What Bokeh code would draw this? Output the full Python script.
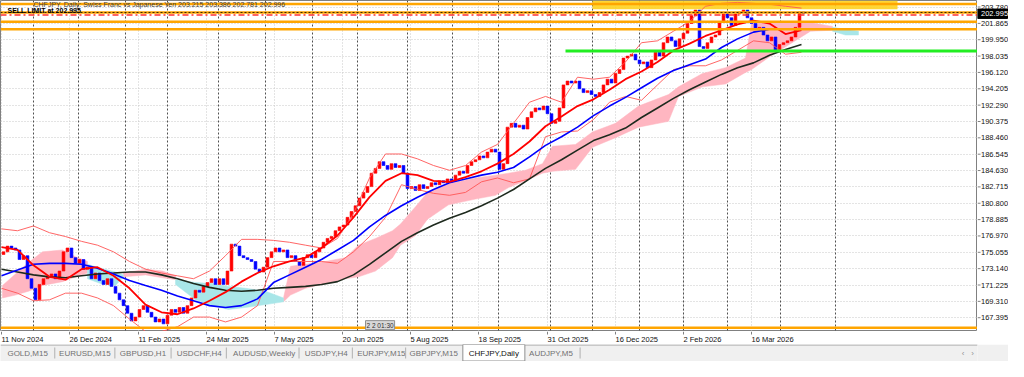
from bokeh.plotting import figure
from bokeh.models import (Range1d, FixedTicker, Span, Label, Grid,
                          BoxAnnotation, ColumnDataSource)
from bokeh.layouts import column, row
from bokeh.embed import file_html
from bokeh.resources import INLINE
from bokeh.core.properties import value

# ---------------- data (CHFJPY daily, one entry per 2 trading days) ----------------
first_open = 174.80
closes = [
    175.11, 175.78, 175.56, 175.33, 174.21, 174.66, 171.96, 170.84, 169.49, 171.29,
    171.96, 172.18, 172.52, 171.96, 172.86, 175.11, 175.56, 174.43, 173.76, 174.21,
    173.08, 173.31, 171.96, 172.63, 171.74, 171.29, 171.96, 171.06, 170.27, 169.49,
    168.81, 167.92, 167.02, 167.47, 168.36, 168.81, 168.03, 167.47, 166.90, 167.24,
    166.68, 167.69, 168.36, 168.03, 168.59, 167.92, 168.81, 169.71, 170.61, 170.39,
    171.06, 171.51, 171.96, 171.29, 171.96, 171.29, 172.86, 176.01, 175.78, 174.66,
    174.43, 174.21, 173.98, 173.08, 172.75, 173.31, 174.43, 175.11, 175.56, 175.11,
    175.33, 174.43, 174.66, 173.98, 173.53, 174.43, 174.77, 174.43, 175.11, 175.56,
    176.23, 176.68, 176.90, 177.58, 178.03, 178.25, 179.15, 179.83, 180.50, 181.40,
    182.07, 182.75, 184.32, 184.88, 185.67, 185.22, 184.77, 185.44, 184.99, 185.22,
    184.32, 182.52, 182.75, 182.30, 182.97, 182.52, 182.75, 183.20, 182.97, 183.42,
    183.20, 183.65, 183.42, 184.09, 184.54, 184.32, 185.22, 185.67, 185.89, 186.34,
    186.12, 186.79, 187.13, 186.79, 184.77, 185.44, 189.71, 190.16, 189.71, 189.94,
    189.49, 190.84, 191.51, 191.96, 191.74, 192.18, 191.29, 190.16, 190.39, 191.96,
    194.66, 195.11, 194.88, 195.11, 194.21, 193.76, 193.98, 193.53, 193.31, 193.76,
    194.66, 195.33, 194.88, 196.00, 196.45, 197.80, 198.03, 198.25, 197.58, 197.13,
    197.35, 196.68, 197.58, 198.48, 198.03, 199.60, 200.27, 199.82, 199.15, 200.05,
    200.72, 201.85, 202.75, 203.42, 199.15, 198.93, 199.60, 200.27, 200.50, 202.07,
    202.97, 202.52, 201.62, 202.97, 203.20, 203.42, 202.52, 201.85, 201.17, 201.40,
    200.50, 199.82, 200.27, 198.70, 199.38, 199.60, 199.82, 200.27, 201.40, 203.20,
    203.00,
]

# indicator lines, one value every 8 bars
red_ma = [175.67, 175.33, 173.53, 172.18, 171.85, 173.08, 173.31, 172.30, 170.84, 168.93,
          168.03, 167.80, 168.48, 169.38, 170.39, 171.62, 172.63, 173.42, 173.98, 174.43,
          175.56, 177.02, 179.15, 181.51, 183.42, 184.32, 184.09, 183.42, 183.31, 183.87,
          184.54, 185.44, 186.57, 188.03, 189.82, 190.95, 192.18, 192.97, 194.09, 195.33,
          196.23, 197.35, 198.70, 199.49, 200.39, 201.06, 201.74, 202.18, 201.85, 200.61,
          201.06]
blue_ma = [172.30, 172.97, 173.65, 173.76, 173.76, 173.65, 173.20, 172.52, 171.74, 171.17,
           170.61, 169.94, 169.38, 168.81, 168.59, 168.81, 169.60, 171.51, 172.41, 173.31,
           174.21, 175.33, 176.45, 178.03, 179.37, 180.50, 181.51, 182.41, 183.20, 183.65,
           184.09, 184.43, 184.99, 186.23, 187.58, 188.59, 189.71, 191.06, 192.18, 193.20,
           194.32, 195.44, 196.34, 197.02, 197.69, 199.04, 200.05, 200.84, 201.17, 201.17,
           201.17]
black_ma = [173.08, 172.75, 172.41, 172.18, 172.07, 172.30, 172.52, 172.63, 172.75, 172.75,
            172.41, 171.96, 171.40, 170.95, 170.61, 170.50, 170.61, 170.84, 170.95, 171.06,
            171.29, 171.62, 172.41, 173.65, 174.99, 176.34, 177.35, 178.25, 179.04, 179.71,
            180.50, 181.40, 182.41, 183.65, 184.88, 185.89, 187.02, 188.14, 188.81, 189.60,
            190.84, 191.96, 193.08, 194.09, 194.99, 195.89, 196.68, 197.24, 198.14, 198.81,
            199.38]
bb_upper = [177.80, 177.58, 178.14, 177.35, 176.90, 176.34, 175.89, 175.11, 173.98, 173.08,
            172.63, 172.30, 171.96, 172.86, 174.66, 176.57, 176.57, 176.45, 176.23, 175.89,
            175.56, 176.68, 179.60, 183.76, 186.57, 186.57, 186.00, 185.22, 184.66, 185.22,
            186.79, 187.69, 190.16, 192.63, 193.31, 192.63, 195.56, 195.33, 195.56, 197.35,
            199.60, 199.82, 200.95, 202.07, 203.87, 204.21, 204.32, 204.21, 204.10, 203.87,
            203.65]
bb_lower = [170.84, 170.27, 169.38, 169.49, 170.27, 170.27, 169.71, 168.81, 167.24, 165.78,
            165.78, 166.34, 167.47, 167.47, 166.90, 167.47, 168.81, 173.98, 173.98, 173.98,
            173.98, 173.76, 175.11, 176.90, 179.15, 182.97, 182.41, 181.96, 181.73, 182.07,
            183.31, 183.76, 183.20, 183.65, 188.59, 189.15, 189.26, 190.61, 192.63, 193.31,
            192.86, 194.66, 196.45, 196.90, 196.90, 197.58, 198.70, 199.82, 199.60, 198.25,
            198.48]

# Ichimoku cloud pieces (bar index, upper span, lower span)
pink_clouds = [
    ([0.5, 7, 13.5, 20.5, 30.5, 37, 43],
     [171.17, 172.52, 173.87, 175.11, 175.33, 174.54, 173.98],
     [169.71, 170.05, 170.50, 171.17, 171.62, 172.18, 172.63]),
    ([61, 72, 80.5, 87],
     [172.63, 173.08, 172.86, 172.30],
     [172.18, 172.41, 172.07, 171.85]),
    ([141, 144.5, 152, 162, 172, 178.5, 187, 195.5, 199.5, 207, 213, 223.5, 237, 247, 253.5,
      262, 270.5, 275.5, 287, 295.5, 307, 318.5, 333.5, 338.5, 350.5, 362, 372, 375,
      384.5, 394.5, 404.5, 415.5],
     [169.71, 173.42, 173.65, 173.98, 174.43, 175.89, 176.68, 177.58, 178.36, 180.39, 182.07,
      183.08, 183.76, 184.09, 184.32, 184.66, 185.44, 187.47, 187.69, 189.15, 190.16, 192.18,
      193.53, 194.43, 196.00, 196.68, 197.80, 201.85, 202.07, 202.07, 201.96, 201.51],
     [169.26, 170.05, 170.84, 171.40, 171.96, 172.18, 172.86, 174.43, 175.89, 177.02, 178.93,
      180.61, 181.29, 181.73, 182.63, 183.42, 184.32, 184.54, 184.77, 187.35, 188.48, 189.71,
      190.39, 193.31, 194.43, 194.77, 196.12, 196.45, 198.03, 199.49, 200.95, 201.06]),
]
cyan_clouds = [
    ([43, 49.5, 57, 61],
     [173.65, 173.20, 172.75, 172.41],
     [171.96, 171.40, 171.17, 172.18]),
    ([87, 97, 105.5, 113.5, 122, 132, 141],
     [171.85, 171.51, 171.40, 171.06, 170.84, 170.50, 169.71],
     [171.29, 169.49, 168.81, 168.36, 168.59, 168.93, 169.26]),
    ([415.5, 422, 428.5],
     [201.40, 201.17, 200.95],
     [200.95, 200.50, 200.50]),
]

# horizontal objects
orange_levels = [204.13, 203.14, 202.05, 201.17, 166.23]
order_level = 203.14
red_dashdot_level = 202.86
green_level = 198.62
green_start_bar = 282
yellow_zone = (295.5, 448, 203.53, 204.544)   # left bar, right bar, low, high
last_price = 202.995

price_ticks = [167.395, 169.310, 171.225, 173.140, 175.055, 176.970, 178.885, 180.800,
               182.715, 184.630, 186.545, 188.460, 190.375, 192.290, 194.205, 196.120,
               198.035, 199.950, 201.865, 203.780]
date_tick_bars = [0, 34, 68.5, 102.5, 136.5, 170.5, 204.5, 238.5, 273, 307, 341, 375]
date_labels = ["11 Nov 2024", "26 Dec 2024", "11 Feb 2025", "24 Mar 2025", "7 May 2025",
               "20 Jun 2025", "5 Aug 2025", "18 Sep 2025", "31 Oct 2025", "16 Dec 2025",
               "2 Feb 2026", "16 Mar 2026"]
month_start_bars = [16, 38.5, 62, 83, 108.5, 132, 155.5, 178, 203, 225.5, 248.5, 274.5,
                    295.5, 319, 341, 363, 389.5, 417]
tabs = ["GOLD,M15", "EURUSD,M15", "GBPUSD,H1", "USDCHF,H4", "AUDUSD,Weekly", "USDJPY,H4",
        "EURJPY,M15", "GBPJPY,M15", "CHFJPY,Daily", "AUDJPY,M5"]
active_tab = "CHFJPY,Daily"

FONT = "Liberation Sans"
X0, X1 = -0.5, 488
Y0, Y1 = 165.78, 204.544

# ---------------- main chart (frame only) ----------------
p = figure(width=977, height=331, x_range=Range1d(X0, X1), y_range=Range1d(Y0, Y1),
           x_axis_location=None, y_axis_location=None, toolbar_location=None,
           output_backend="svg", min_border=0,
           background_fill_color="white", border_fill_color="white")
p.outline_line_color = "#808080"
p.grid.visible = False
p.add_layout(Grid(dimension=0, ticker=FixedTicker(ticks=date_tick_bars),
                  grid_line_color="#c8c8c8", grid_line_dash="1 2", level="underlay"))
p.add_layout(Grid(dimension=1, ticker=FixedTicker(ticks=price_ticks),
                  grid_line_color="#c8c8c8", grid_line_dash="1 2", level="underlay"))

for b in month_start_bars:
    p.add_layout(Span(location=b, dimension="height", line_color="#505050",
                      line_dash="2 2", line_width=1, level="underlay"))

yl, yr, ylo, yhi = yellow_zone
p.add_layout(BoxAnnotation(left=yl, right=yr, bottom=ylo, top=yhi, fill_color="#FFD21F",
                           fill_alpha=0.9, line_color=None, level="underlay"))

# cloud
for xs, top, bot in pink_clouds:
    p.patch(xs + xs[::-1], top + bot[::-1], fill_color="#FFB6C1", line_color="#FFB6C1",
            line_width=0.5)
for xs, top, bot in cyan_clouds:
    p.patch(xs + xs[::-1], top + bot[::-1], fill_color="#A8E6E8", line_color="#A8E6E8",
            line_width=0.5)

# candles
opens = [first_open] + closes[:-1]
bars = [2 * i + 1 for i in range(len(closes))]
tops = [max(o, c) for o, c in zip(opens, closes)]
bots = [min(o, c) for o, c in zip(opens, closes)]
cols = ["#FF0000" if c >= o else "#0000FF" for o, c in zip(opens, closes)]
src = ColumnDataSource(dict(x=bars, top=tops, bottom=bots, color=cols))
p.vbar(x="x", top="top", bottom="bottom", width=1.4, fill_color="color", line_color="color",
       line_width=0.6, source=src)

# indicator lines
line_bars = list(range(0, 8 * len(red_ma), 8))
p.line(line_bars, bb_upper, line_color="#FF5555", line_width=0.9)
p.line(line_bars, bb_lower, line_color="#FF5555", line_width=0.9)
p.line(line_bars, black_ma, line_color="#1E2A1E", line_width=1.6)
p.line(line_bars, blue_ma, line_color="#0000FF", line_width=1.6)
p.line(line_bars, red_ma, line_color="#FF0000", line_width=1.8)

# horizontal objects
for lv in orange_levels:
    p.add_layout(Span(location=lv, dimension="width", line_color="#FFA500", line_width=2.5))
p.add_layout(Span(location=order_level, dimension="width", line_color="#3A2A00",
                  line_width=1, line_dash="2 2"))
p.add_layout(Span(location=red_dashdot_level, dimension="width", line_color="#FF3030",
                  line_width=1.5, line_dash="6 3 2 3"))
p.segment(x0=green_start_bar, x1=X1, y0=green_level, y1=green_level,
          line_color="#22EE22", line_width=3)

# texts
p.add_layout(Label(x=16, y=204.09, text="CHFJPY, Daily:  Swiss Franc vs Japanese Yen  203.215 203.386 202.781 202.996",
                   text_font=FONT, text_font_size="7px", text_color="#404040",
                   text_baseline="middle"))
p.add_layout(Label(x=3, y=203.40, text="SELL LIMIT at 202.995", text_font=FONT,
                   text_font_size="7px", text_color="#000000", text_font_style="bold",
                   text_baseline="middle"))
p.add_layout(Label(x=182, y=166.0, text="2 2 01:30", text_font=FONT,
                   text_font_size="6.5px", text_color="#303030", text_baseline="bottom",
                   background_fill_color="#D8D8D8", border_line_color="#909090", padding=1))

# ---------------- right price scale ----------------
ys = figure(width=31, height=331, x_range=Range1d(0, 31), y_range=p.y_range,
            x_axis_location=None, y_axis_location=None, toolbar_location=None,
            output_backend="svg", min_border=0, background_fill_color="white",
            border_fill_color="white")
ys.grid.visible = False
ys.outline_line_color = None
ys.segment(x0=0, x1=3, y0=price_ticks, y1=price_ticks, line_color="#808080", line_width=1)
ys.text(x=3.5, y=price_ticks, text=["%.3f" % v for v in price_ticks], text_align="left",
        text_baseline="middle", text_font=value(FONT), text_font_size="7.5px",
        text_color="#111111")
ys.quad(left=0, right=30, bottom=last_price - 0.55, top=last_price + 0.55,
        fill_color="black", line_color="black")
ys.text(x=[3.5], y=[last_price], text=["%.3f" % last_price], text_align="left",
        text_baseline="middle", text_font=value(FONT), text_font_size="7.5px",
        text_color="white")

# ---------------- date strip ----------------
ds = figure(width=1008, height=13, x_range=p.x_range, y_range=Range1d(0, 13),
            x_axis_location=None, y_axis_location=None, toolbar_location=None,
            output_backend="svg", min_border=0, min_border_right=31,
            background_fill_color="white", border_fill_color="white")
ds.grid.visible = False
ds.outline_line_color = None
ds.segment(x0=date_tick_bars, x1=date_tick_bars, y0=13, y1=10, line_color="#808080")
ds.text(x=date_tick_bars, y=5.5, text=date_labels, text_align="left", text_baseline="middle",
        text_font=value(FONT), text_font_size="7.5px", text_color="#111111")

# ---------------- tabs strip ----------------
t = figure(width=1008, height=17, x_range=Range1d(5, 1013), y_range=Range1d(0, 17),
           toolbar_location=None, output_backend="svg", min_border=0,
           x_axis_location=None, y_axis_location=None,
           background_fill_color="#F0F0F0", border_fill_color="#F0F0F0")
t.grid.visible = False
t.outline_line_color = None
tab_centers = [33, 92, 152, 210, 277, 341, 398, 452, 514, 573]
tab_seps = [61, 123, 181, 238, 313, 368, 423, 603]
t.segment(x0=5, x1=1013, y0=16.5, y1=16.5, line_color="#A0A0A0")
t.quad(left=482, right=546, bottom=0.5, top=17, fill_color="white",
       line_color="#909090", line_width=1)
t.text(x=tab_centers, y=8, text=tabs, text_align="center", text_baseline="middle",
       text_font=value(FONT), text_font_size="8px",
       text_color=["#111111" if n == active_tab else "#707070" for n in tabs])
t.segment(x0=tab_seps, x1=tab_seps, y0=3, y1=14, line_color="#B0B0B0", line_width=1)
t.text(x=[998, 1008], y=[8, 8], text=["‹", "›"], text_align="center", text_baseline="middle",
       text_font=value(FONT), text_font_size="8px", text_color="#909090")

layout = column(row(p, ys, spacing=0), ds, t, spacing=0)
open("out.html", "w").write(file_html(layout, INLINE))
